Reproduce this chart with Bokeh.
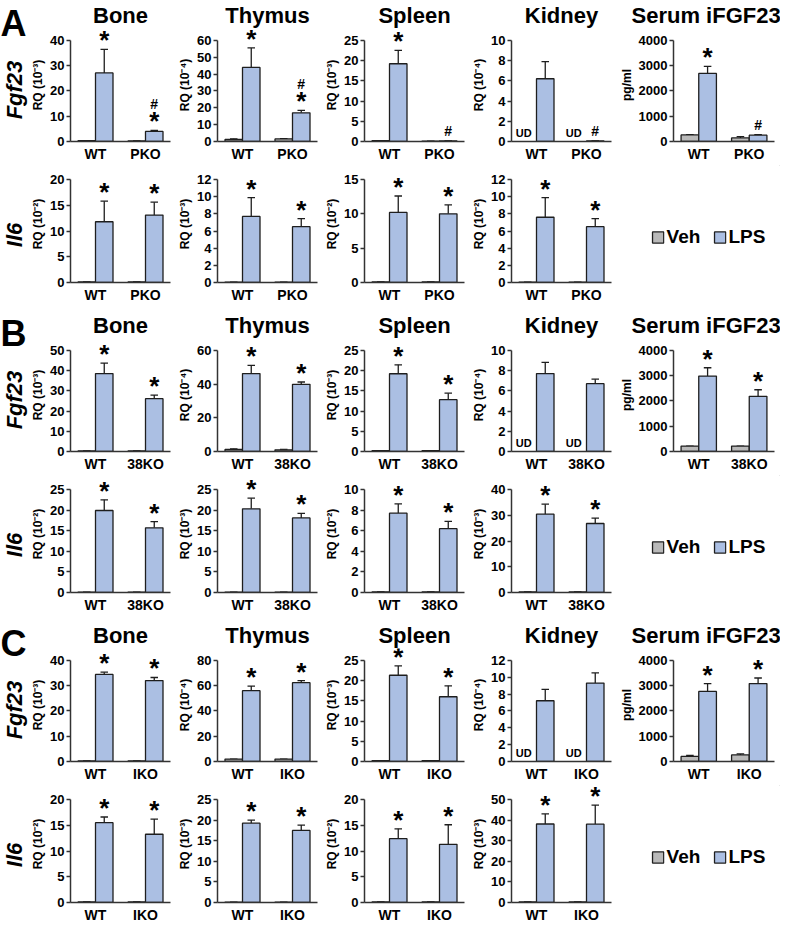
import math
from bokeh.plotting import figure
from bokeh.models import (ColumnDataSource, FactorRange, Range1d, FixedTicker, LabelSet, Label,
                          Legend, LegendItem, Title)
from bokeh.transform import dodge
from bokeh.layouts import row, column
from bokeh.core.properties import value
from bokeh.embed import file_html
from bokeh.resources import INLINE

# ---------------- data ----------------
tissues = ["Bone", "Thymus", "Spleen", "Kidney", "Serum iFGF23"]
genes = ["Fgf23", "Il6"]
letters = ["A", "B", "C"]
legend_labels = ["Veh", "LPS"]
groups_A = ["WT", "PKO"]
groups_B = ["WT", "38KO"]
groups_C = ["WT", "IKO"]

# Fgf23 rows (Bone, Thymus, Spleen, Kidney, Serum); each entry = [WT, KO]; None = UD
fgf23_units = ["RQ (10⁻³)", "RQ (10⁻⁴)", "RQ (10⁻³)", "RQ (10⁻⁴)", "pg/ml"]

A_fgf23_ymax = [40, 60, 25, 10, 4000]
A_fgf23_step = [10, 10, 5, 2, 1000]
A_fgf23_veh = [[0.3, 0.2], [1.2, 1.5], [0.2, 0.1], [None, None], [260, 140]]
A_fgf23_veh_up = [[0.3, 0.2], [1.6, 1.7], [0.2, 0.1], [None, None], [270, 190]]
A_fgf23_lps = [[27.1, 4.0], [43.9, 17.0], [19.2, 0.15], [6.2, 0.05], [2690, 250]]
A_fgf23_lps_up = [[36.4, 4.4], [55.5, 18.5], [22.5, 0.15], [7.9, 0.05], [2970, 270]]
A_fgf23_sig = [["*", "*#"], ["*", "*#"], ["*", "#"], ["", "#"], ["*", "#"]]

A_il6_units = ["RQ (10⁻²)", "RQ (10⁻³)", "RQ (10⁻²)", "RQ (10⁻²)"]
A_il6_ymax = [20, 12, 15, 12]
A_il6_step = [5, 2, 5, 2]
A_il6_veh = [[0.1, 0.1], [0.05, 0.05], [0.08, 0.08], [0.05, 0.05]]
A_il6_lps = [[11.8, 13.1], [7.7, 6.5], [10.2, 10.0], [7.6, 6.5]]
A_il6_lps_up = [[15.8, 15.6], [9.9, 7.45], [12.6, 11.3], [9.9, 7.45]]
A_il6_sig = [["*", "*"], ["*", "*"], ["*", "*"], ["*", "*"]]

B_fgf23_ymax = [50, 60, 25, 10, 4000]
B_fgf23_step = [10, 20, 5, 2, 1000]
B_fgf23_veh = [[0.3, 0.3], [1.2, 1.0], [0.2, 0.2], [None, None], [214, 214]]
B_fgf23_veh_up = [[0.3, 0.3], [1.6, 1.2], [0.2, 0.2], [None, None], [214, 214]]
B_fgf23_lps = [[38.5, 26.1], [46.2, 39.8], [19.2, 12.8], [7.7, 6.7], [2980, 2180]]
B_fgf23_lps_up = [[43.7, 27.9], [51.1, 41.2], [21.4, 14.4], [8.8, 7.15], [3310, 2440]]
B_fgf23_sig = [["*", "*"], ["*", "*"], ["*", "*"], ["", ""], ["*", "*"]]

B_il6_units = ["RQ (10⁻²)", "RQ (10⁻³)", "RQ (10⁻²)", "RQ (10⁻³)"]
B_il6_ymax = [25, 25, 10, 40]
B_il6_step = [5, 5, 2, 10]
B_il6_veh = [[0.1, 0.1], [0.1, 0.1], [0.05, 0.05], [0.2, 0.2]]
B_il6_lps = [[19.9, 15.7], [20.3, 18.1], [7.7, 6.2], [30.4, 26.8]]
B_il6_lps_up = [[22.5, 17.2], [22.9, 19.2], [8.6, 6.9], [34.3, 28.9]]
B_il6_sig = [["*", "*"], ["*", "*"], ["*", "*"], ["*", "*"]]

C_fgf23_ymax = [40, 80, 25, 12, 4000]
C_fgf23_step = [10, 20, 5, 2, 1000]
C_fgf23_veh = [[0.2, 0.2], [1.9, 1.9], [0.2, 0.2], [None, None], [200, 260]]
C_fgf23_veh_up = [[0.2, 0.2], [1.9, 1.9], [0.2, 0.2], [None, None], [240, 300]]
C_fgf23_lps = [[34.4, 32.0], [56.0, 62.3], [21.3, 16.0], [7.2, 9.3], [2770, 3080]]
C_fgf23_lps_up = [[35.3, 33.2], [59.6, 64.0], [23.6, 18.7], [8.55, 10.5], [3080, 3300]]
C_fgf23_sig = [["*", "*"], ["*", "*"], ["*", "*"], ["", ""], ["*", "*"]]

C_il6_units = ["RQ (10⁻²)", "RQ (10⁻³)", "RQ (10⁻²)", "RQ (10⁻³)"]
C_il6_ymax = [20, 25, 20, 50]
C_il6_step = [5, 5, 5, 10]
C_il6_veh = [[0.1, 0.1], [0.1, 0.1], [0.1, 0.1], [0.3, 0.3]]
C_il6_lps = [[15.5, 13.25], [19.25, 17.5], [12.4, 11.3], [38.1, 38.0]]
C_il6_lps_up = [[16.6, 16.2], [20.0, 18.8], [14.3, 15.1], [43.0, 47.3]]
C_il6_sig = [["*", "*"], ["*", "*"], ["*", "*"], ["*", "*"]]

# ---------------- style / layout ----------------
FONT = "Liberation Sans"
VEH_FILL = "#b9b9b9"
LPS_FILL = "#abbfe3"
EDGE = "#1e1e1e"
AXIS = "#333333"
OFF = 0.175
BAR_W = 0.35
CAP = 0.075
STAR_SIZE = "26px"
STAR_DY = 0
HASH_DY_STAR = 21
HASH_DY = 5

LEFT_W = 28
COL_W = [147, 147, 147, 147, 164]
FRAME_W = [104, 104, 104, 104, 106]
MBL = [38, 38, 38, 38, 52]
SERUM_TITLE_OFFSET = -42
H = 103            # pixels from 0 to the top tick
TB = 26            # title border
E1, B1 = 12, 24    # Fgf23 row: room above top tick, bottom border
E2, B2, B2_LAST = 14, 28, 24


def make_panel(groups, ymax, step, unit, veh, veh_up, lps, lps_up, sig, col, ext, mbb, title=None):
    mbr = COL_W[col] - MBL[col] - FRAME_W[col]
    mbt = TB if title else 0
    p = figure(width=COL_W[col], height=mbt + ext + H + mbb, x_range=FactorRange(*groups),
               y_range=Range1d(0, ymax * (H + ext) / H),
               min_border_left=MBL[col], min_border_right=mbr, min_border_top=mbt,
               min_border_bottom=mbb, toolbar_location=None, tools="", output_backend="svg")
    p.outline_line_color = None
    p.xgrid.grid_line_color = None
    p.ygrid.grid_line_color = None
    if title:
        p.add_layout(Title(text=title, text_font=FONT, text_font_size="22px", text_font_style="bold",
                           text_color="black", standoff=1, vertical_align="bottom",
                           align=("left" if col == 4 else "center"),
                           offset=(SERUM_TITLE_OFFSET if col == 4 else 0)), "above")

    ya = p.yaxis[0]
    ya.bounds = (0, ymax)
    ya.ticker = FixedTicker(ticks=list(range(0, ymax + 1, step)))
    ya.axis_label = unit
    ya.axis_label_text_font = FONT
    ya.axis_label_text_font_style = "bold"
    ya.axis_label_text_font_size = "12px"
    ya.axis_label_text_color = "black"
    ya.axis_label_standoff = 2
    ya.major_label_text_font = FONT
    ya.major_label_text_font_style = "bold"
    ya.major_label_text_font_size = "13px"
    ya.major_label_text_color = "black"
    ya.major_label_standoff = 2
    ya.major_tick_out = 4
    ya.major_tick_in = 0
    ya.major_tick_line_width = 1.5
    ya.major_tick_line_color = AXIS
    ya.minor_tick_line_color = None
    ya.minor_tick_out = 0
    ya.axis_line_width = 1.5
    ya.axis_line_color = AXIS

    xa = p.xaxis[0]
    xa.major_tick_line_color = None
    xa.minor_tick_line_color = None
    xa.major_tick_out = 0
    xa.major_tick_in = 0
    xa.minor_tick_out = 0
    xa.axis_line_width = 1.5
    xa.axis_line_color = AXIS
    xa.major_label_text_font = FONT
    xa.major_label_text_font_style = "bold"
    xa.major_label_text_font_size = "14px"
    xa.major_label_text_color = "black"
    xa.major_label_standoff = 4

    keep = [i for i, v in enumerate(veh) if v is not None]
    vsrc = ColumnDataSource(dict(g=[groups[i] for i in keep], top=[veh[i] for i in keep],
                                 up=[veh_up[i] for i in keep]))
    lsrc = ColumnDataSource(dict(
        g=groups, top=lps, up=lps_up,
        star=["*" if "*" in s else "" for s in sig],
        hash=["#" if "#" in s else "" for s in sig],
        hoff=[HASH_DY_STAR if "*" in s else HASH_DY for s in sig],
    ))
    usrc = ColumnDataSource(dict(g=groups, ud=["UD" if v is None else "" for v in veh]))

    for src, off, fill in ((vsrc, -OFF, VEH_FILL), (lsrc, OFF, LPS_FILL)):
        xd = dodge("g", off, range=p.x_range)
        p.segment(x0=xd, y0="top", x1=xd, y1="up", source=src, line_color=EDGE, line_width=1.3)
        p.segment(x0=dodge("g", off - CAP, range=p.x_range), y0="up",
                  x1=dodge("g", off + CAP, range=p.x_range), y1="up",
                  source=src, line_color=EDGE, line_width=1.3)
        p.vbar(x=xd, top="top", bottom=0, width=BAR_W, source=src,
               fill_color=fill, line_color=EDGE, line_width=1.3)

    p.add_layout(LabelSet(x=dodge("g", OFF, range=p.x_range), y="up", text="star", source=lsrc,
                          text_align="center", text_baseline="alphabetic", y_offset=STAR_DY,
                          text_font=value(FONT), text_font_style="bold", text_font_size=STAR_SIZE,
                          text_color="black"))
    p.add_layout(LabelSet(x=dodge("g", OFF, range=p.x_range), y="up", text="hash", source=lsrc,
                          text_align="center", text_baseline="alphabetic", y_offset="hoff",
                          text_font=value(FONT), text_font_style="bold", text_font_size="14px",
                          text_color="black"))
    p.add_layout(LabelSet(x=dodge("g", -OFF, range=p.x_range), y=0, text="ud", source=usrc,
                          text_align="center", text_baseline="alphabetic", y_offset=5, x_offset=-4,
                          text_font=value(FONT), text_font_style="bold", text_font_size="11px",
                          text_color="black"))
    return p


def blank_fig(width, height, xr, yr, mbl=0):
    p = figure(width=width, height=height, x_range=xr, y_range=yr,
               x_axis_location=None, y_axis_location=None, min_border=0, min_border_left=mbl,
               toolbar_location=None, tools="", output_backend="svg")
    p.outline_line_color = None
    p.grid.grid_line_color = None
    return p


def left_fig(letter, height):
    p = blank_fig(LEFT_W, height, Range1d(0, LEFT_W), Range1d(0, height))
    p.add_layout(Label(x=0, y=height - 2, text=letter, text_font=FONT, text_font_style="bold",
                       text_font_size="36px", text_baseline="top", text_align="left",
                       text_color="black"))
    p.add_layout(Label(x=14, y=height - (TB + E1 + H / 2), text=genes[0], angle=math.pi / 2,
                       text_font=FONT, text_font_style="bold italic", text_font_size="22px",
                       text_align="center", text_baseline="middle", text_color="black"))
    p.add_layout(Label(x=14, y=height - (TB + E1 + H + B1 + E2 + H / 2 + 4), text=genes[1],
                       angle=math.pi / 2, text_font=FONT, text_font_style="bold italic",
                       text_font_size="22px", text_align="center", text_baseline="middle",
                       text_color="black"))
    return p


def legend_fig(height):
    p = blank_fig(COL_W[4], height, Range1d(0, 1), Range1d(0, 1), mbl=20)
    # legend proxies, kept outside the visible range
    r1 = p.vbar(x=[5], top=[5], bottom=[4], width=0.1, fill_color=VEH_FILL, line_color=EDGE, line_width=1.3)
    r2 = p.vbar(x=[5], top=[5], bottom=[4], width=0.1, fill_color=LPS_FILL, line_color=EDGE, line_width=1.3)
    leg = Legend(items=[LegendItem(label=legend_labels[0], renderers=[r1]),
                        LegendItem(label=legend_labels[1], renderers=[r2])],
                 location="top_center", orientation="horizontal",
                 glyph_width=14, glyph_height=14, label_standoff=2, spacing=12,
                 padding=0, margin=E2 + 47, border_line_color=None, background_fill_alpha=0,
                 label_text_font=FONT, label_text_font_style="bold", label_text_font_size="19px",
                 label_text_color="black")
    p.add_layout(leg)
    return p


def section(letter, groups, f, i, last):
    f_ymax, f_step, f_veh, f_veh_up, f_lps, f_lps_up, f_sig = f
    i_units, i_ymax, i_step, i_veh, i_lps, i_lps_up, i_sig = i
    b2 = B2_LAST if last else B2
    top = [make_panel(groups, f_ymax[c], f_step[c], fgf23_units[c], f_veh[c], f_veh_up[c],
                      f_lps[c], f_lps_up[c], f_sig[c], c, E1, B1, title=tissues[c])
           for c in range(5)]
    bot = [make_panel(groups, i_ymax[c], i_step[c], i_units[c], i_veh[c], i_veh[c],
                      i_lps[c], i_lps_up[c], i_sig[c], c, E2, b2)
           for c in range(4)]
    bot.append(legend_fig(E2 + H + b2))
    total_h = (TB + E1 + H + B1) + (E2 + H + b2)
    return row(left_fig(letter, total_h), column(row(*top), row(*bot)))


secA = section(letters[0], groups_A,
               (A_fgf23_ymax, A_fgf23_step, A_fgf23_veh, A_fgf23_veh_up, A_fgf23_lps, A_fgf23_lps_up, A_fgf23_sig),
               (A_il6_units, A_il6_ymax, A_il6_step, A_il6_veh, A_il6_lps, A_il6_lps_up, A_il6_sig), False)
secB = section(letters[1], groups_B,
               (B_fgf23_ymax, B_fgf23_step, B_fgf23_veh, B_fgf23_veh_up, B_fgf23_lps, B_fgf23_lps_up, B_fgf23_sig),
               (B_il6_units, B_il6_ymax, B_il6_step, B_il6_veh, B_il6_lps, B_il6_lps_up, B_il6_sig), False)
secC = section(letters[2], groups_C,
               (C_fgf23_ymax, C_fgf23_step, C_fgf23_veh, C_fgf23_veh_up, C_fgf23_lps, C_fgf23_lps_up, C_fgf23_sig),
               (C_il6_units, C_il6_ymax, C_il6_step, C_il6_veh, C_il6_lps, C_il6_lps_up, C_il6_sig), True)

layout = column(secA, secB, secC)
open("out.html", "w").write(file_html(layout, INLINE))
